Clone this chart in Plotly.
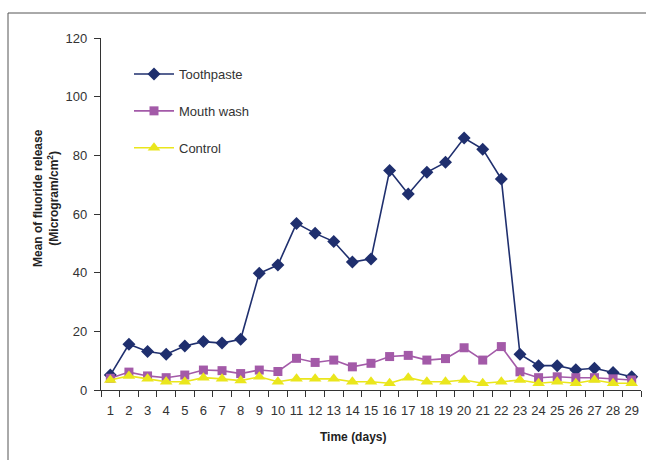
import plotly.graph_objects as go

days = list(range(1, 30))
day_labels = [str(d) for d in days]
toothpaste = [5.1, 15.6, 13.1, 12.2, 15.0, 16.5, 16.0, 17.3, 39.8, 42.6,
              56.8, 53.4, 50.6, 43.6, 44.7, 74.8, 66.8, 74.2, 77.6, 85.9,
              82.1, 71.9, 12.2, 8.3, 8.3, 6.9, 7.4, 6.0, 4.5]
mouth_wash = [4.0, 6.1, 4.8, 4.2, 5.1, 6.8, 6.6, 5.6, 6.8, 6.3,
              10.8, 9.4, 10.2, 7.9, 9.1, 11.4, 11.8, 10.2, 10.7, 14.4,
              10.2, 14.8, 6.2, 4.2, 4.5, 4.2, 4.2, 3.8, 3.4]
control = [3.4, 4.8, 3.8, 2.8, 2.8, 4.2, 3.8, 3.2, 4.5, 2.8,
           3.8, 3.8, 3.8, 2.8, 2.8, 2.3, 4.2, 2.8, 2.8, 3.4,
           2.3, 2.8, 3.4, 2.3, 2.8, 2.3, 3.4, 2.3, 2.3]
y_ticks = [0, 20, 40, 60, 80, 100, 120]

FONT = "Liberation Sans, Arial, sans-serif"

fig = go.Figure()
fig.add_trace(go.Scatter(x=days, y=toothpaste, name="Toothpaste", mode="lines+markers",
                         legendgroup="a",
                         line=dict(color="#1F2F6E", width=1.6),
                         marker=dict(symbol="diamond", size=10, color="#1F2F6E")))
fig.add_trace(go.Scatter(x=days, y=mouth_wash, name="Mouth wash", mode="lines+markers",
                         legendgroup="b",
                         line=dict(color="#A35AA8", width=1.6),
                         marker=dict(symbol="square", size=9, color="#A35AA8")))
fig.add_trace(go.Scatter(x=days, y=control, name="Control", mode="lines+markers",
                         legendgroup="c",
                         line=dict(color="#EAE61C", width=1.6),
                         marker=dict(symbol="triangle-up", size=11, color="#EAE61C")))

L, R, T, B = 101, 5, 38, 70
W, H = 646, 460
pw = W - L - R
ph = H - T - B

def px_x(p):
    return (p - L) / pw

def px_y(p):
    return (H - B - p) / ph

fig.update_layout(
    width=W, height=H,
    margin=dict(l=L, r=R, t=T, b=B),
    paper_bgcolor="white", plot_bgcolor="white",
    font=dict(family=FONT, size=13, color="#333333"),
    showlegend=True,
    legend=dict(x=px_x(129), y=px_y(59), xanchor="left", yanchor="top",
                bgcolor="rgba(0,0,0,0)", tracegroupgap=17,
                font=dict(family=FONT, size=13, color="#333333"),
                itemwidth=40),
    xaxis=dict(range=[0.5, 29.5], tickmode="array", tickvals=days, ticktext=day_labels,
               ticks="", showgrid=False, zeroline=False,
               showline=True, linecolor="#333333", linewidth=1.2,
               ticklabelstandoff=8,
               tickfont=dict(family=FONT, size=13, color="#333333"),
               minor=dict(ticks="outside", tick0=0.5, dtick=1, ticklen=6,
                          tickcolor="#333333", showgrid=False)),
    yaxis=dict(range=[0, 120], tickmode="array", tickvals=y_ticks,
               ticks="outside", ticklen=6, tickcolor="#333333",
               showgrid=False, zeroline=False,
               showline=True, linecolor="#333333", linewidth=1.2,
               ticklabelstandoff=4,
               tickfont=dict(family=FONT, size=13, color="#333333")),
    shapes=[
        dict(type="line", xref="paper", yref="paper",
             x0=px_x(8), x1=px_x(8), y0=px_y(13), y1=px_y(470),
             line=dict(color="#555555", width=1)),
        dict(type="line", xref="paper", yref="paper",
             x0=px_x(8), x1=px_x(660), y0=px_y(13), y1=px_y(13),
             line=dict(color="#555555", width=1)),
    ],
    annotations=[
        dict(text="<b>Mean of fluoride release<br>(Microgram/cm<sup>2</sup>)</b>",
             xref="paper", yref="paper", x=px_x(46), y=px_y(198),
             xanchor="center", yanchor="middle", textangle=-90, showarrow=False,
             font=dict(family=FONT, size=12, color="#222222")),
        dict(text="<b>Time (days)</b>", xref="paper", yref="paper",
             x=px_x(353), y=px_y(437), xanchor="center", yanchor="middle",
             showarrow=False, font=dict(family=FONT, size=12, color="#222222")),
    ],
)

fig.write_html("out.html", config={"displayModeBar": False},
               post_script="document.body.style.margin='0px';document.body.style.overflow='hidden';")
